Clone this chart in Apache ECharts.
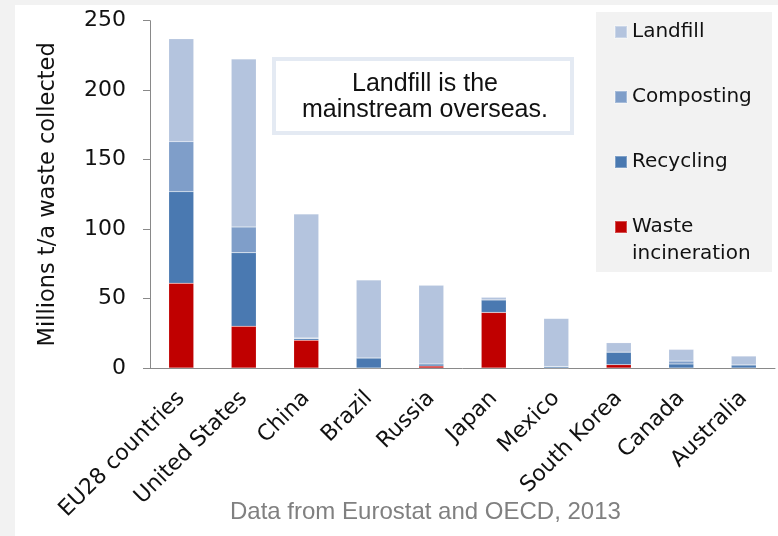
<!DOCTYPE html>
<html>
  <head>
    <meta charset="utf-8" />
    <title>Waste collected</title>
    <script src="https://cdnjs.cloudflare.com/ajax/libs/echarts/6.0.0/echarts.min.js"></script>
  </head>
  <body>
    <style>
      html, body {
        margin: 0;
        padding: 0;
        background: #f2f2f2;
      }
      #main {
        width: 778px;
        height: 536px;
      }
    </style>
    <div id="main"></div>
    <script type="text/javascript">
      // countries, largest total first
      var countries = ['EU28 countries', 'United States', 'China', 'Brazil', 'Russia',
                       'Japan', 'Mexico', 'South Korea', 'Canada', 'Australia'];

      // millions t/a
      var incineration = [61, 30, 20, 0, 1.4, 40, 0, 2.4, 0, 0];
      var recycling    = [66, 53, 1.2, 7.2, 1.5, 9, 1, 9, 2.9, 2.2];
      var composting   = [36, 18.5, 0.4, 0, 0, 0, 0, 0, 2.1, 0];
      var landfill     = [74, 121, 89.3, 56.2, 56.7, 1.9, 34.7, 6.8, 8.4, 6.4];

      var yTicks = [0, 50, 100, 150, 200, 250];

      var chartDom = document.getElementById('main');
      var myChart = echarts.init(chartDom);
      var option;

      var fontV = 'DejaVu Sans';
      var fontA = 'Liberation Sans';

      function barSeries(name, data, color) {
        return {
          name: name,
          type: 'bar',
          stack: 'waste',
          data: data,
          barWidth: '40%',
          itemStyle: {
            color: color,
            borderColor: 'rgba(255,255,255,0.3)',
            borderWidth: 0.5
          },
          emphasis: { disabled: true }
        };
      }

      option = {
        backgroundColor: '#f2f2f2',
        animation: false,
        grid: {
          left: 150,
          right: 3,
          top: 20.7,
          bottom: 168
        },
        legend: {
          orient: 'vertical',
          left: 614,
          top: 20,
          padding: 0,
          itemWidth: 12,
          itemHeight: 12,
          itemGap: 41,
          icon: 'rect',
          data: ['Landfill', 'Composting', 'Recycling', 'Waste incineration'],
          formatter: function (name) {
            return name === 'Waste incineration' ? 'Waste' : name;
          },
          textStyle: {
            fontFamily: fontV,
            fontSize: 20,
            lineHeight: 24,
            color: '#111'
          },
          selectedMode: false
        },
        title: {
          text: 'Data from Eurostat and OECD, 2013',
          left: 230,
          top: 500,
          padding: 0,
          textStyle: {
            fontFamily: fontA,
            fontSize: 24,
            fontWeight: 'normal',
            color: '#808080'
          }
        },
        graphic: [
          {
            type: 'rect',
            z: -10,
            shape: { x: 15, y: 5, width: 763, height: 531 },
            style: { fill: '#ffffff' }
          },
          {
            type: 'rect',
            z: -5,
            shape: { x: 596, y: 12, width: 176, height: 260 },
            style: { fill: '#f2f2f2' }
          },
          {
            type: 'text',
            left: 632,
            top: 244,
            style: {
              text: 'incineration',
              font: '20px "DejaVu Sans"',
              fill: '#111'
            }
          },
          {
            type: 'rect',
            shape: { x: 274, y: 59, width: 298, height: 74 },
            style: { fill: '#ffffff', stroke: '#e4eaf3', lineWidth: 4 }
          },
          {
            type: 'text',
            x: 425,
            y: 97,
            style: {
              text: 'Landfill is the\nmainstream overseas.',
              font: '25px "Liberation Sans"',
              lineHeight: 26,
              fill: '#111',
              align: 'center',
              verticalAlign: 'middle'
            }
          }
        ],
        xAxis: {
          type: 'category',
          data: countries,
          axisLine: { lineStyle: { color: '#898989', width: 1 } },
          axisTick: { length: 8, lineStyle: { color: '#898989' } },
          axisLabel: {
            rotate: 45,
            interval: 0,
            margin: 27,
            fontFamily: fontV,
            fontSize: 22,
            color: '#111'
          }
        },
        yAxis: {
          type: 'value',
          min: 0,
          max: 250,
          interval: 50,
          name: 'Millions t/a waste collected',
          nameLocation: 'middle',
          nameGap: 90,
          nameTextStyle: {
            fontFamily: fontV,
            fontSize: 22.5,
            color: '#111'
          },
          axisLine: { show: true, lineStyle: { color: '#898989', width: 1 } },
          axisTick: { show: true, length: 7, lineStyle: { color: '#898989' } },
          splitLine: { show: false },
          axisLabel: {
            margin: 24,
            fontFamily: fontV,
            fontSize: 22,
            color: '#111',
            customValues: yTicks
          }
        },
        series: [
          barSeries('Waste incineration', incineration, '#c00000'),
          barSeries('Recycling', recycling, '#4a79b1'),
          barSeries('Composting', composting, '#7f9ec9'),
          barSeries('Landfill', landfill, '#b4c4de')
        ]
      };

      option && myChart.setOption(option);
    </script>
  </body>
</html>
